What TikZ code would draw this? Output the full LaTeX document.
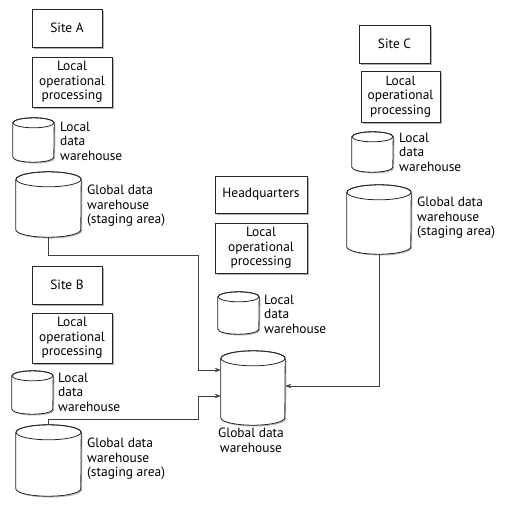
\documentclass[tikz,border=0pt]{standalone}
\usepackage{fontspec}
\setmainfont{PT Sans}
\usetikzlibrary{arrows.meta,shadows,calc}
\newcommand\drawcyl[3]{%
  \fill[gray!55] ($(#1.north west)+(1.3,-#3-1.3)$) -- ($(#1.south west)+(1.3,#3-1.3)$) arc[start angle=180,end angle=360,x radius=#2,y radius=#3] -- ($(#1.north east)+(1.3,-#3-1.3)$) -- cycle;
  \filldraw[cylline,fill=white] ($(#1.north west)+(0,-#3)$) -- ($(#1.south west)+(0,#3)$) arc[start angle=180,end angle=360,x radius=#2,y radius=#3] -- ($(#1.north east)+(0,-#3)$) arc[start angle=0,end angle=180,x radius=#2,y radius=#3] -- cycle;
  \draw[cylline] ($(#1.north)+(0,-#3)$) ellipse[x radius=#2,y radius=#3];
}
\begin{document}
\begin{tikzpicture}[x=1pt,y=1pt,
  every node/.style={font=\fontsize{13.4}{14.5}\selectfont},
  box/.style={draw=black!85,line width=0.8pt,fill=white,inner sep=0,align=center,
    drop shadow={shadow xshift=1.5pt,shadow yshift=-1.5pt,fill=gray!60,opacity=1}},
  cyl/.style={inner sep=0,draw=none},
  cylline/.style={draw=black!85,line width=0.8pt},
  lbl/.style={inner sep=0,align=left,anchor=west},
  conn/.style={draw=black!75,line width=0.8pt,-{Stealth[length=6pt,width=4.5pt]}}]
\useasboundingbox (0,0) rectangle (514,-504);
% boxes
\node[box,minimum width=70,minimum height=38] (siteA) at (67,-28) {Site A};
\node[box,minimum width=80,minimum height=50] (lopA) at (72,-82) {Local\\operational\\processing};
\node[box,minimum width=70,minimum height=38] (siteB) at (67,-285) {Site B};
\node[box,minimum width=80,minimum height=50] (lopB) at (72,-338) {Local\\operational\\processing};
\node[box,minimum width=92,minimum height=37] (hq) at (261,-194.5) {Headquarters};
\node[box,minimum width=92,minimum height=50] (lopH) at (261,-248) {Local\\operational\\processing};
\node[box,minimum width=71,minimum height=38] (siteC) at (394.5,-44) {Site C};
\node[box,minimum width=79,minimum height=51] (lopC) at (400.5,-96.5) {Local\\operational\\processing};
% cylinders
\node[cyl,minimum width=41,minimum height=44] (ldA) at (33.5,-140) {};
\node[cyl,minimum width=65,minimum height=65] (gsA) at (48.5,-204.5) {};
\node[cyl,minimum width=41,minimum height=43] (ldB) at (32.5,-392.5) {};
\node[cyl,minimum width=65,minimum height=71] (gsB) at (48.5,-460.5) {};
\node[cyl,minimum width=41,minimum height=42] (ldH) at (238.5,-313) {};
\node[cyl,minimum width=64,minimum height=74] (gDW) at (253,-388) {};
\node[cyl,minimum width=41,minimum height=40] (ldC) at (372.5,-152) {};
\node[cyl,minimum width=64,minimum height=69] (gsC) at (379,-219.5) {};
\drawcyl{ldA}{20.5}{5}
\drawcyl{gsA}{32.5}{7.5}
\drawcyl{ldB}{20.5}{5}
\drawcyl{gsB}{32.5}{7.5}
\drawcyl{ldH}{20.5}{5}
\drawcyl{gDW}{32}{7.5}
\drawcyl{ldC}{20.5}{5}
\drawcyl{gsC}{32}{7.5}
% labels
\node[lbl] (ldAl) at (60,-141) {Local\\data\\warehouse};
\node[lbl] (gsAl) at (87,-206) {Global data\\warehouse\\(staging area)};
\node[lbl] (ldBl) at (58,-392) {Local\\data\\warehouse};
\node[lbl] (gsBl) at (87,-459) {Global data\\warehouse\\(staging area)};
\node[lbl] (ldHl) at (264,-314) {Local\\data\\warehouse};
\node[inner sep=0,align=center] (gDWl) at (251,-440.5) {Global data\\warehouse};
\node[lbl] (ldCl) at (399,-152) {Local\\data\\warehouse};
\node[lbl] (gsCl) at (417,-218) {Global data\\warehouse\\(staging area)};
% connectors
\coordinate (aBend) at (198,-255);
\coordinate (aY) at (0,-370);
\coordinate (bBend) at (198,-419);
\coordinate (bY) at (0,-396);
\coordinate (cY) at (0,-386);
\draw[conn] (gsA.south) |- (aBend) |- (gDW.west |- aY);
\draw[conn] (gsB.north) |- (bBend) |- (gDW.west |- bY);
\draw[conn] (gsC.south) |- (gDW.east |- cY);
\end{tikzpicture}
\end{document}
